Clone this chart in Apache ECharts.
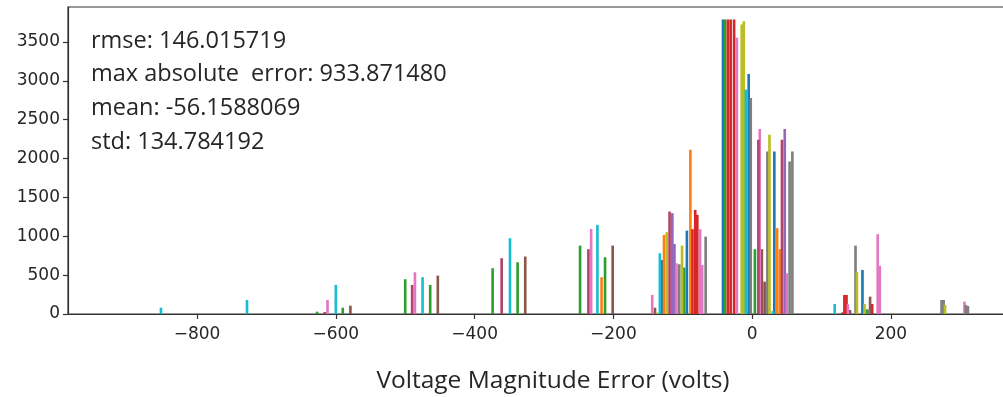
<!DOCTYPE html>
<html>
<head>
<meta charset="utf-8">
<script src="https://cdn.jsdelivr.net/npm/echarts@6/dist/echarts.min.js"></script>
<style>
  html, body { margin: 0; padding: 0; background: #fff; }
  #chart { width: 1003px; height: 397px; }
</style>
</head>
<body>
<div id="chart"></div>
<script>
// Histogram bins per case: [bin centre (volts), count]
const blueBars   = [[-130, 696], [-94, 1073], [-42, 3789], [-5, 3089], [32, 2091], [159, 567]];
const orangeBars = [[-217, 473], [-127, 1018], [-89, 2113], [36, 1104], [40, 834]];
const greenBars  = [[-627, 30], [-590, 81], [-500, 447], [-464, 374], [-374, 589], [-338, 666],
                    [-248, 880], [-212, 730], [-98, 597], [-39, 3789], [4, 834], [165, 60]];
const redBars    = [[-86, 1091], [-82, 1340], [-79, 1276], [-35, 3789], [-31, 3789], [-26, 3789],
                    [130, 20], [133, 245], [136, 245], [173, 129]];
const purpleBars = [[-115, 1297], [-112, 902], [47, 2380]];
const brownBars  = [[-616, 25], [-579, 107], [-453, 494], [-327, 739], [-201, 880], [-140, 81],
                    [14, 834], [18, 416], [141, 52], [170, 223]];
const pinkBars   = [[-612, 180], [-486, 537], [-232, 1095], [-144, 245], [-109, 653], [-75, 1091],
                    [-72, 631], [-22, 3553], [11, 2380], [50, 524], [138, 125], [181, 1027],
                    [184, 619], [306, 159]];
const grayBars   = [[-105, 640], [-67, 996], [-2, 2780], [22, 2091], [54, 1963], [58, 2091],
                    [149, 880], [168, 60], [273, 180], [276, 180], [308, 116], [311, 103]];
const oliveBars  = [[-137, 20], [-123, 1053], [-101, 880], [-15, 3724], [-12, 3766], [25, 2307],
                    [151, 537], [162, 129], [278, 116]];
const cyanBars   = [[-852, 81], [-728, 180], [-600, 374], [-475, 473], [-349, 975], [-223, 1147],
                    [-133, 782], [-9, 2887], [30, 40], [119, 129]];
const crimsonBars = [[-490, 374], [-361, 718], [-236, 834], [-119, 1318], [9, 2242], [43, 2242]];

const xTickValues = [-800, -600, -400, -200, 0, 200];
const yTickValues = [0, 500, 1000, 1500, 2000, 2500, 3000, 3500];

const statLines = [
  'rmse: 146.015719',
  'max absolute  error: 933.871480',
  'mean: -56.1588069',
  'std: 134.784192'
];
const xTitle = 'Voltage Magnitude Error (volts)';

const groups = [
  ['case 1', blueBars, '#1f77b4'],
  ['case 2', orangeBars, '#ff7f0e'],
  ['case 3', greenBars, '#2ca02c'],
  ['case 4', redBars, '#d62728'],
  ['case 5', purpleBars, '#9467bd'],
  ['case 6', brownBars, '#8c564b'],
  ['case 7', pinkBars, '#e377c2'],
  ['case 8', grayBars, '#7f7f7f'],
  ['case 9', oliveBars, '#bcbd22'],
  ['case 10', cyanBars, '#17becf'],
  ['case 11', crimsonBars, '#b0456c']
];

const BIN_W = 3.8; // bar width in volts

function renderBar(params, api) {
  const x = api.value(0), y = api.value(1);
  const p0 = api.coord([x - BIN_W / 2, y]);
  const p1 = api.coord([x + BIN_W / 2, 0]);
  return {
    type: 'rect',
    shape: { x: p0[0], y: p0[1], width: Math.max(p1[0] - p0[0], 1.5), height: p1[1] - p0[1] },
    style: { fill: api.visual('color') }
  };
}

const chart = echarts.init(document.getElementById('chart'), null, { renderer: 'canvas' });
const axisFont = { fontFamily: 'DejaVu Sans', fontSize: 17, color: '#262626' };
const lineStyle = { color: '#333', width: 1.2 };

chart.setOption({
  animation: false,
  backgroundColor: '#fff',
  grid: {
    left: 68, right: -35, top: 7, bottom: 83,
    outerBoundsMode: 'none', containLabel: false,
    show: true, borderColor: '#333', borderWidth: 1.2, backgroundColor: 'transparent'
  },
  xAxis: {
    type: 'value', min: -986, max: 412,
    splitLine: { show: false },
    axisLine: { onZero: false, lineStyle },
    axisTick: { show: true, length: 5, customValues: xTickValues, lineStyle },
    axisLabel: {
      customValues: xTickValues, margin: 12, ...axisFont,
      formatter: v => (v < 0 ? '\u2212' + Math.abs(v) : String(v))
    },
    name: xTitle, nameLocation: 'middle', nameGap: 55,
    nameTextStyle: { fontFamily: 'Open Sans', fontSize: 24.5, color: '#262626' }
  },
  yAxis: {
    type: 'value', min: 0, max: 3950,
    splitLine: { show: false },
    axisLine: { show: true, onZero: false, lineStyle },
    axisTick: { show: true, length: 5, customValues: yTickValues, lineStyle },
    axisLabel: { customValues: yTickValues, margin: 8, ...axisFont, formatter: v => String(v) }
  },
  graphic: statLines.map((t, i) => ({
    type: 'text', left: 91, top: 29 + i * 33.7,
    style: { text: t, fontFamily: 'Open Sans', fontSize: 23.5, fill: '#262626' }
  })),
  series: groups.map(([name, data, color]) => ({
    type: 'custom', name, data, renderItem: renderBar,
    itemStyle: { color }, encode: { x: 0, y: 1 }
  }))
});
</script>
</body>
</html>
